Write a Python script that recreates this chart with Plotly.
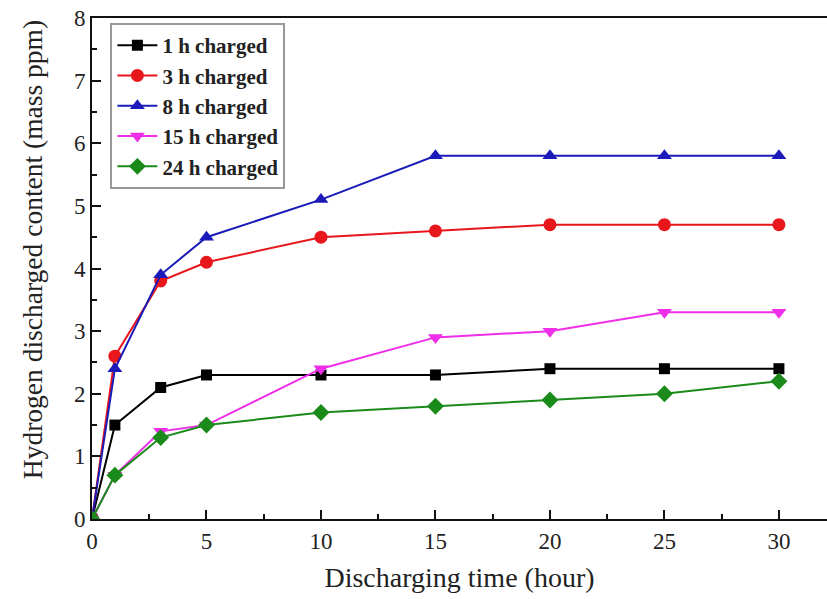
import plotly.graph_objects as go

# Discharging time (hour)
time_h = [0, 1, 3, 5, 10, 15, 20, 25, 30]

# Hydrogen discharged content (mass ppm) for each charging time
h1 = [0, 1.5, 2.1, 2.3, 2.3, 2.3, 2.4, 2.4, 2.4]
h3 = [0, 2.6, 3.8, 4.1, 4.5, 4.6, 4.7, 4.7, 4.7]
h8 = [0, 2.4, 3.9, 4.5, 5.1, 5.8, 5.8, 5.8, 5.8]
h15 = [0, 0.7, 1.4, 1.5, 2.4, 2.9, 3.0, 3.3, 3.3]
h24 = [0, 0.7, 1.3, 1.5, 1.7, 1.8, 1.9, 2.0, 2.2]

series_names = ["1 h charged", "3 h charged", "8 h charged", "15 h charged", "24 h charged"]
series_vals = [h1, h3, h8, h15, h24]
colors = ["#000000", "#e8171b", "#1a1ab8", "#ee2ee8", "#1a8a1a"]
symbols = ["square", "circle", "triangle-up", "triangle-down", "diamond"]
sizes = [11, 13, 13, 13, 13]

x_ticks = [0, 5, 10, 15, 20, 25, 30]
y_ticks = [0, 1, 2, 3, 4, 5, 6, 7, 8]

fig = go.Figure()
for name, vals, c, s, sz in zip(series_names, series_vals, colors, symbols, sizes):
    fig.add_trace(go.Scatter(
        x=time_h, y=vals, name=name, mode="lines+markers",
        line=dict(color=c, width=2),
        marker=dict(color=c, symbol=s, size=sz),
    ))

font = "Liberation Serif, Times New Roman, serif"
fig.update_layout(
    width=827, height=599,
    margin=dict(l=92, r=0, t=18, b=80),
    paper_bgcolor="white", plot_bgcolor="white",
    font=dict(family=font, color="#222222", size=20),
    showlegend=True,
    legend=dict(
        x=0.025, y=0.99, xanchor="left", yanchor="top",
        bgcolor="white", bordercolor="#999999", borderwidth=2,
        font=dict(family=font, size=21, color="#222222", weight="bold"),
        tracegroupgap=0, itemwidth=40,
    ),
    xaxis=dict(
        range=[0, 32.1], tickvals=x_ticks, ticktext=[str(v) for v in x_ticks],
        showgrid=False, zeroline=False,
        showline=True, linecolor="#111111", linewidth=2, mirror=True,
        ticks="inside", ticklen=9, tickwidth=1.5, tickcolor="#111111",
        minor=dict(ticks="inside", ticklen=5, tickwidth=1.5, tickcolor="#111111", dtick=2.5),
        tickfont=dict(size=23),
        title=dict(text="Discharging time (hour)", font=dict(size=28), standoff=15),
    ),
    yaxis=dict(
        range=[0, 8], tickvals=y_ticks, ticktext=[str(v) for v in y_ticks],
        showgrid=False, zeroline=False,
        showline=True, linecolor="#111111", linewidth=2, mirror=False,
        ticks="inside", ticklen=9, tickwidth=1.5, tickcolor="#111111",
        minor=dict(ticks="inside", ticklen=5, tickwidth=1.5, tickcolor="#111111", dtick=0.5),
        tickfont=dict(size=23),
    ),
    annotations=[dict(
        text="Hydrogen discharged content (mass ppm)",
        xref="paper", yref="paper", x=-0.08, y=0.537,
        xanchor="center", yanchor="middle", textangle=-90, showarrow=False,
        font=dict(family=font, size=27.5, color="#222222"),
    )],
)

fig.write_html("out.html")
